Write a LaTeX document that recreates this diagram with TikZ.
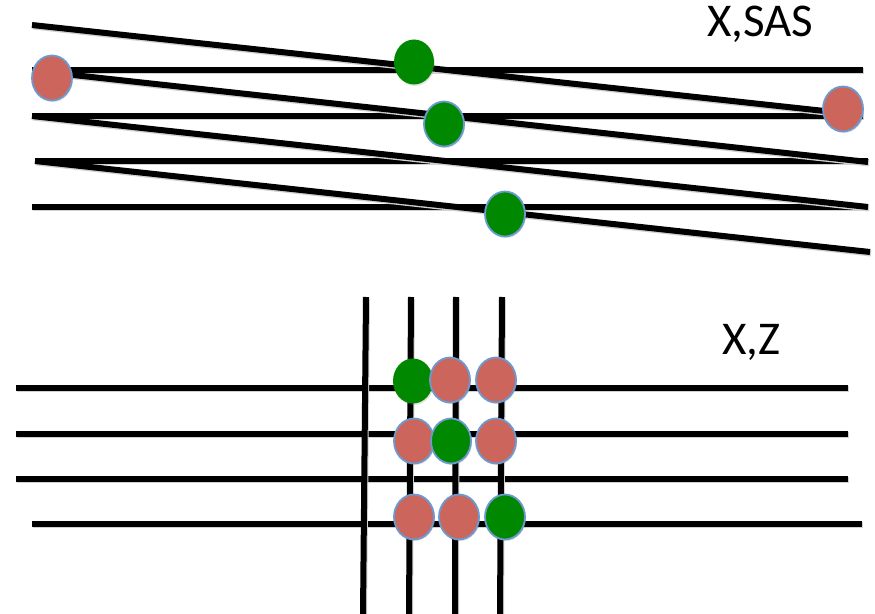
\documentclass[tikz,border=0pt]{standalone}
\usepackage{fontspec}
\setmainfont{Carlito}
\usetikzlibrary{
    positioning,        % Relative positioning
    shapes.geometric,   % Ellipse beads
    shadows             % Soft shadows under beads
}
\definecolor{beadred}{RGB}{204,102,92}
\definecolor{beadgreen}{RGB}{0,137,0}
\definecolor{beadrim}{RGB}{108,153,208}
\tikzset{wire/.style={
    line width=6bp,
    preaction={draw=black!18, line width=6bp, transform canvas={shift={(1pt,-1.5pt)}}}
}}
\tikzset{bead/.style={
    ellipse, minimum width=40bp, minimum height=45bp, inner sep=0pt,
    drop shadow={opacity=.22, shadow xshift=1pt, shadow yshift=-1.5pt}
}}
\tikzset{redbead/.style={bead, fill=beadred, draw=beadrim, line width=1.8bp}}
\tikzset{greenbead/.style={bead, fill=beadgreen}}
\tikzset{greenrimbead/.style={greenbead, draw=beadrim, line width=1.8bp}}
\tikzset{tag/.style={anchor=base west, inner sep=0pt, font=\fontsize{47bp}{54bp}\selectfont}}

\begin{document}
\begin{tikzpicture}[x=1bp, y=-1bp]
    \useasboundingbox (0,0) rectangle (875,614);

    % X,SAS: straight and tilted wires
    \foreach \n/\y/\xa/\xb in {1/70/32/863, 2/116/32/863, 3/161/35/868, 4/207/32/865} {
        \coordinate (hl\n) at (\xa,\y);
        \coordinate (hr\n) at (\xb,\y);
        \draw[wire] (hl\n) -- (hr\n);
    }
    \coordinate (sl1) at (32,25);  \coordinate (sr1) at (843,113);
    \coordinate (sl2) at (55,73);  \coordinate (sr2) at (868,162);
    \coordinate (sl3) at (32,116); \coordinate (sr3) at (868,207);
    \coordinate (sl4) at (35,161); \coordinate (sr4) at (870,252);
    \foreach \n in {1,...,4}
        \draw[wire] (sl\n) -- (sr\n);

    \node[redbead] (r1) at (52,78) {};
    \node[redbead] (r2) at (843,109) {};
    \node[greenbead] (g1) at (414,62) {};
    \node[greenrimbead] (g2) at (444,124) {};
    \node[greenrimbead] (g3) at (505,214) {};
    \node[tag] (sas) at (707,37) {X,SAS};

    % X,Z: grid
    \foreach \n/\y/\xa/\xb in {1/388/16/848, 2/434/16/848, 3/479/16/848, 4/524/32/862} {
        \coordinate (bl\n) at (\xa,\y);
        \coordinate (br\n) at (\xb,\y);
        \draw[wire] (bl\n) -- (br\n);
    }
    \foreach \n/\xt/\xb in {1/366/363, 2/411/409, 3/456/455, 4/502/500} {
        \coordinate (vt\n) at (\xt,297);
        \coordinate (vb\n) at (\xb,614);
        \draw[wire] (vt\n) -- (vb\n);
    }

    \node[greenbead] (za) at (413,381) {};
    \node[redbead] (zb) at (450,380) {};
    \node[redbead] (zc) at (496,380) {};
    \node[redbead] (zd) at (414,441) {};
    \node[greenrimbead] (ze) at (451,441) {};
    \node[redbead] (zf) at (496,441) {};
    \node[redbead] (zg) at (414,517) {};
    \node[redbead] (zh) at (459,517) {};
    \node[greenrimbead] (zi) at (505,517) {};
    \node[tag] (xz) at (722,354) {X,Z};
\end{tikzpicture}
\end{document}
